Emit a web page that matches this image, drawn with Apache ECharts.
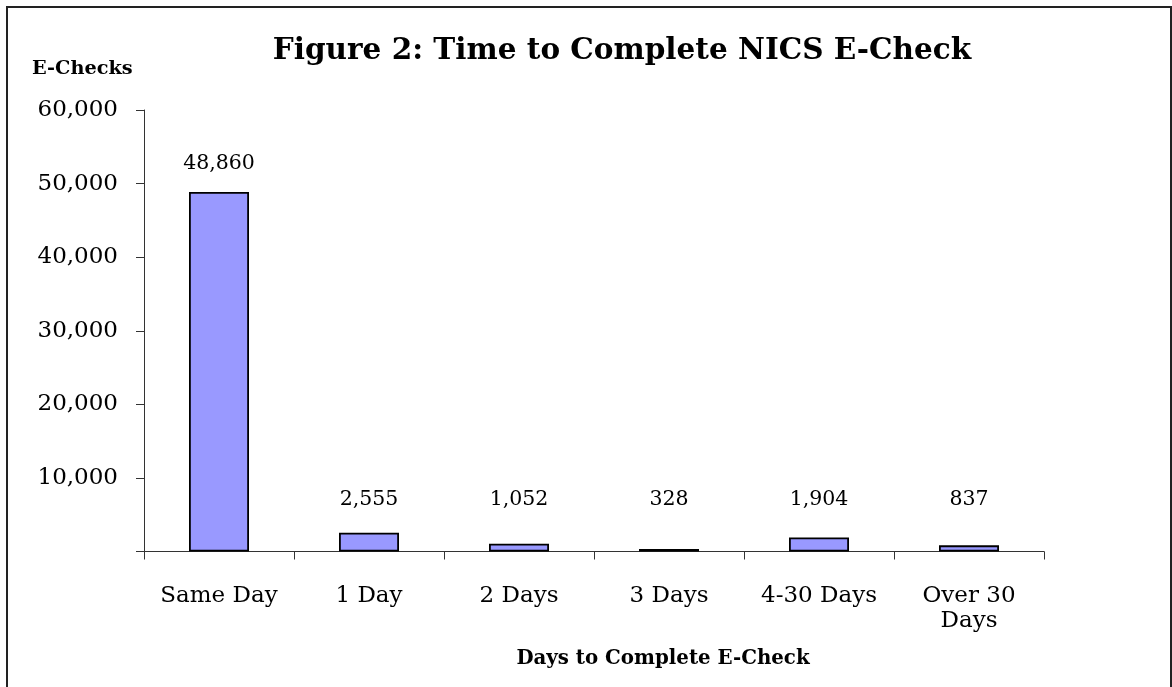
<!DOCTYPE html>
<html>
<head>
<meta charset="utf-8">
<script src="https://cdn.jsdelivr.net/npm/echarts@6/dist/echarts.min.js"></script>
<style>
  html, body { margin: 0; padding: 0; background: #fff; }
  #chart { width: 1172px; height: 687px; }
  #frame { position: absolute; left: 6px; top: 6px; width: 1166px; height: 700px; border: 2px solid #222; box-sizing: border-box; pointer-events: none; }
</style>
</head>
<body>
<div id="chart"></div>
<div id="frame"></div>
<script>
// data
const categories = ["Same Day", "1 Day", "2 Days", "3 Days", "4-30 Days", "Over 30\nDays"];
const eChecks = [48860, 2555, 1052, 328, 1904, 837];
const yTicks = [0, 10000, 20000, 30000, 40000, 50000, 60000];

const FONT = "DejaVu Serif";
const GRID_H = 441.5;
const Y_MAX = yTicks[yTicks.length - 1];
const pxPerUnit = GRID_H / Y_MAX;
// small bars get their labels lifted to a common row, like the original
const LABEL_FLOOR = 3200;

const chart = echarts.init(document.getElementById("chart"));

const barData = eChecks.map(v => ({
    value: v,
    label: { distance: 18 + Math.max(0, LABEL_FLOOR - v) * pxPerUnit }
}));

const option = {
    backgroundColor: "#fff",
    animation: false,
    title: [
        {
            text: "Figure 2: Time to Complete NICS E-Check",
            left: 622, top: 36, textAlign: "center", padding: 0,
            textStyle: { fontFamily: FONT, fontWeight: "bold", fontSize: 29.5, color: "#000" }
        },
        {
            text: "E-Checks",
            left: 32, top: 59, padding: 0,
            textStyle: { fontFamily: FONT, fontWeight: "bold", fontSize: 19.3, color: "#000" }
        },
        {
            text: "Days to Complete E-Check",
            left: 663, top: 649, textAlign: "center", padding: 0,
            textStyle: { fontFamily: FONT, fontWeight: "bold", fontSize: 19.8, color: "#000" }
        }
    ],
    grid: { left: 144, top: 110, width: 900, height: GRID_H },
    xAxis: {
        type: "category",
        data: categories,
        axisLine: { lineStyle: { color: "#333", width: 1 } },
        axisTick: { show: true, interval: 0, length: 8, lineStyle: { color: "#333" } },
        axisLabel: {
            interval: 0, margin: 32, fontFamily: FONT, fontSize: 23, lineHeight: 25, color: "#000"
        }
    },
    yAxis: {
        type: "value",
        min: 0, max: Y_MAX, interval: 10000,
        splitLine: { show: false },
        axisLine: { show: true, lineStyle: { color: "#333", width: 1 } },
        axisTick: { show: true, length: 8, lineStyle: { color: "#333" } },
        axisLabel: {
            margin: 26, fontFamily: FONT, fontSize: 23, color: "#000",
            formatter: v => v === 0 ? "" : v.toLocaleString("en-US")
        }
    },
    series: [{
        type: "bar",
        data: barData,
        barWidth: 60,
        itemStyle: { color: "#9999ff", borderColor: "#000", borderWidth: 1.8 },
        label: {
            show: true, position: "top",
            fontFamily: FONT, fontSize: 20.5, color: "#000",
            formatter: p => p.value.toLocaleString("en-US")
        }
    }]
};

chart.setOption(option);
</script>
</body>
</html>
